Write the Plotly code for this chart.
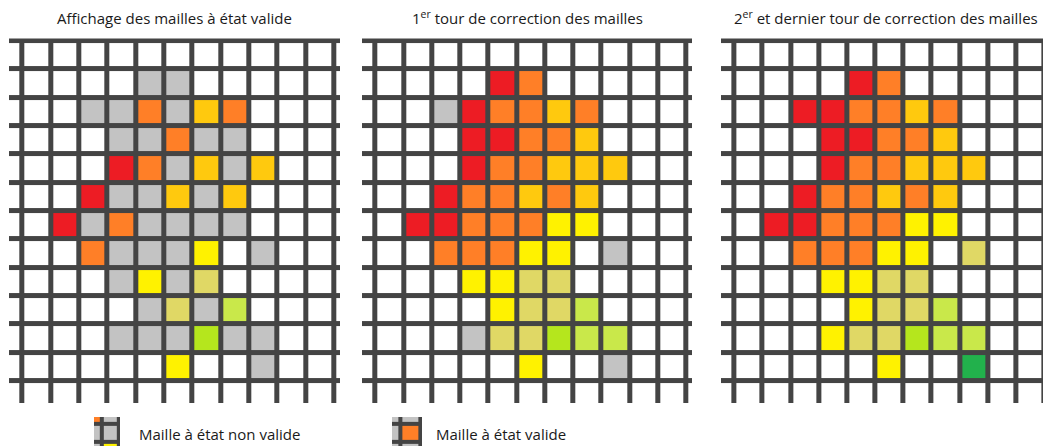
import plotly.graph_objects as go

# cell state codes -> colours
codes = ".gROAYKLVG"
code_colors = ["#FFFFFF", "#C3C3C3", "#ED1C24", "#FF7F27", "#FFC90E",
               "#FFF200", "#E0D865", "#C9E84A", "#B5E61D", "#22B14C"]

# panel titles
titles = ["Affichage des mailles à état valide",
          "1<sup>er</sup> tour de correction des mailles",
          "2<sup>er</sup> et dernier tour de correction des mailles"]

# grids (row by row, partial border cells included)
grid_valid = [
    ".............",
    ".....gg......",
    "...ggOgAO....",
    "....ggOgg....",
    "....ROgAgA...",
    "...RggAgA....",
    "..RgOgggg....",
    "...OgggY.g...",
    "....gYgK.....",
    ".....gKgL....",
    "....gggVgg...",
    "......Y..g...",
    ".............",
]
grid_round1 = [
    ".............",
    ".....RO......",
    "...gROOAO....",
    "....RROOA....",
    "....ROOAAA...",
    "...ROOAOA....",
    "..RROOOYY....",
    "...OOOYY.g...",
    "....YYKK.....",
    ".....YKKL....",
    "....gKKVLL...",
    "......Y..g...",
    ".............",
]
grid_round2 = [
    ".............",
    ".....RO......",
    "...RROOAO....",
    "....RROOA....",
    "....ROOAAA...",
    "...ROOAOA....",
    "..RROOOYY....",
    "...OOOYY.K...",
    "....YYKK.....",
    ".....YKKL....",
    "....YKKVLL...",
    "......Y..G...",
    ".............",
]
grids = [grid_valid, grid_round1, grid_round2]

# legend
legend_labels = ["Maille à état non valide", "Maille à état valide"]
legend_icons = [
    ["Ogg", "ggg", "gYg"],
    ["ggg", "gOg", "ggO"],
]

# the page body has an 8px margin, so the figure is laid out 8px up/left
W, H = 1043, 440
line_col = "#444444"
n = len(codes)
cscale = []
for i, c in enumerate(code_colors):
    cscale += [[i / n, c], [(i + 1) / n, c]]


def to_z(rows):
    return [[codes.index(ch) for ch in r] for r in rows]


fig = go.Figure()
panel_px = [(1, 332), (354, 684), (713, 1042)]
top_px, bot_px = 30.5, 395

for k, (g, (x0, x1)) in enumerate(zip(grids, panel_px)):
    ax = "" if k == 0 else str(k + 1)
    fig.add_trace(go.Heatmap(z=to_z(g), colorscale=cscale, zmin=-0.5, zmax=n - 0.5,
                             showscale=False, xgap=5, ygap=5, hoverinfo="skip",
                             xaxis="x" + ax, yaxis="y" + ax))
    fig.update_layout(**{
        "xaxis" + ax: dict(domain=[x0 / W, x1 / W], range=[0.02, 11.7], visible=False,
                           anchor="y" + ax),
        "yaxis" + ax: dict(domain=[1 - bot_px / H, 1 - top_px / H], range=[12.28, -0.59],
                           visible=False, anchor="x" + ax),
    })
    fig.add_annotation(text=titles[k], x=(x0 + x1) / 2 / W, y=1 - 10 / H, xref="paper",
                       yref="paper", showarrow=False, xanchor="center", yanchor="middle",
                       font=dict(size=15))

icon_px = [(86, 112, 409, 438), (384, 414, 409, 438)]
text_x = [129, 426]
for k, (icon, (x0, x1, y0, y1)) in enumerate(zip(legend_icons, icon_px)):
    ax = str(k + 4)
    fig.add_trace(go.Heatmap(z=to_z(icon), colorscale=cscale, zmin=-0.5, zmax=n - 0.5,
                             showscale=False, xgap=4, ygap=4, hoverinfo="skip",
                             xaxis="x" + ax, yaxis="y" + ax))
    fig.update_layout(**{
        "xaxis" + ax: dict(domain=[x0 / W, x1 / W], range=[0.05, 1.6], visible=False,
                           anchor="y" + ax),
        "yaxis" + ax: dict(domain=[1 - y1 / H, 1 - y0 / H], range=[1.7, 0.15],
                           visible=False, anchor="x" + ax),
    })
    fig.add_annotation(text=legend_labels[k], x=text_x[k] / W, y=1 - 426 / H, xref="paper",
                       yref="paper", showarrow=False, xanchor="left", yanchor="middle",
                       font=dict(size=15))

fig.update_layout(width=W, height=H, margin=dict(l=0, r=0, t=0, b=0),
                  paper_bgcolor="white", plot_bgcolor=line_col,
                  font=dict(family="Open Sans", color="#1a1a1a"))
fig.write_html("out.html")
